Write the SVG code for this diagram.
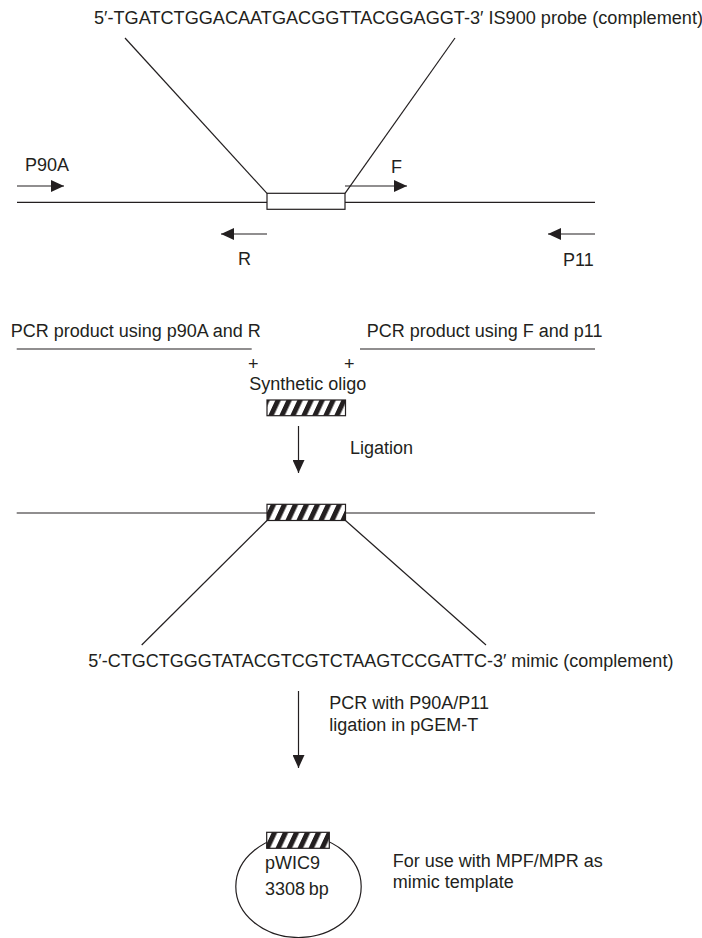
<svg xmlns="http://www.w3.org/2000/svg" width="702" height="938" viewBox="0 0 702 938">
<style>
  text { font-family: "Liberation Sans", Arial, Helvetica, sans-serif; font-size: 18px; fill: #231f20; }
  .ln { stroke: #231f20; stroke-width: 1.2; fill: none; }
  .arr { stroke: #231f20; stroke-width: 1.2; fill: none; marker-end: url(#head); }
  .box { fill: #fff; stroke: #231f20; stroke-width: 1.2; }
  .hatch { fill: url(#stripes); stroke: #231f20; stroke-width: 1.2; }
</style>
<defs>
  <marker id="head" markerUnits="userSpaceOnUse" markerWidth="13" markerHeight="12" refX="13" refY="6" orient="auto">
    <path d="M0,0 L13,6 L0,12 z" fill="#231f20"/>
  </marker>
  <pattern id="stripes" patternUnits="userSpaceOnUse" width="11" height="20" patternTransform="skewX(-25)">
    <rect x="0" y="0" width="11" height="20" fill="#fff"/>
    <rect x="0" y="0" width="5.5" height="20" fill="#231f20"/>
  </pattern>
</defs>

<rect width="702" height="938" fill="#fff"/>

<g id="connectors">
  <!-- probe zoom lines -->
  <line class="ln" x1="125" y1="38" x2="267" y2="193.3"/>
  <line class="ln" x1="455" y1="38" x2="345" y2="193.3"/>
  <!-- primer arrows -->
  <line class="arr" x1="17" y1="186" x2="64" y2="186"/>
  <line class="arr" x1="345" y1="186" x2="407" y2="186"/>
  <line class="arr" x1="267" y1="234" x2="221" y2="234"/>
  <line class="arr" x1="595" y1="234" x2="548" y2="234"/>
  <!-- ligation arrow -->
  <line class="arr" x1="298.5" y1="426" x2="298.5" y2="473"/>
  <!-- mimic zoom lines -->
  <line class="ln" x1="267" y1="520.5" x2="141.7" y2="645"/>
  <line class="ln" x1="345.5" y1="520.5" x2="486" y2="645"/>
  <!-- PCR / cloning arrow -->
  <line class="arr" x1="298.5" y1="691" x2="298.5" y2="768"/>
</g>

<g id="probe-label">
  <text x="94" y="24" textLength="609" lengthAdjust="spacingAndGlyphs">5′-TGATCTGGACAATGACGGTTACGGAGGT-3′ IS900 probe (complement)</text>
</g>

<g id="target-dna">
  <line class="ln" x1="17" y1="202.3" x2="267" y2="202.3"/>
  <line class="ln" x1="345" y1="202.3" x2="595" y2="202.3"/>
  <rect class="box" x="267" y="193.3" width="78" height="16"/>
</g>

<g id="primer-P90A"><text x="25" y="171">P90A</text></g>
<g id="primer-F"><text x="391" y="173">F</text></g>
<g id="primer-R"><text x="238" y="264.5">R</text></g>
<g id="primer-P11"><text x="563" y="266">P11</text></g>

<g id="pcr-left">
  <text x="10.7" y="336.7">PCR product using p90A and R</text>
  <line class="ln" x1="16.7" y1="349" x2="251.7" y2="349"/>
</g>
<g id="pcr-right">
  <text x="366.7" y="336.7">PCR product using F and p11</text>
  <line class="ln" x1="360" y1="349" x2="595" y2="349"/>
</g>

<g id="synthetic-oligo">
  <text x="248" y="369.8">+</text>
  <text x="344" y="369.8">+</text>
  <text x="249.3" y="390">Synthetic oligo</text>
  <rect class="hatch" x="267" y="400" width="78.5" height="15.7"/>
</g>

<g id="ligation-label"><text x="350" y="454">Ligation</text></g>

<g id="ligated-dna">
  <line class="ln" x1="16.7" y1="513" x2="267" y2="513"/>
  <line class="ln" x1="345.5" y1="513" x2="595" y2="513"/>
  <rect class="hatch" x="267" y="504.3" width="78.5" height="16.2"/>
</g>

<g id="mimic-label">
  <text x="88.3" y="667">5′-CTGCTGGGTATACGTCGTCTAAGTCCGATTC-3′ mimic (complement)</text>
</g>

<g id="cloning-label">
  <text x="329.3" y="709">PCR with P90A/P11</text>
  <text x="329.3" y="730.5">ligation in pGEM-T</text>
</g>

<g id="plasmid">
  <ellipse class="ln" cx="298.5" cy="886.5" rx="62.7" ry="51"/>
  <rect class="hatch" x="266.7" y="832.3" width="62.6" height="16"/>
  <text x="265" y="869">pWIC9</text>
  <text x="265" y="894.5">3308&#8201;bp</text>
</g>

<g id="plasmid-note">
  <text x="392.7" y="866.5">For use with MPF/MPR as</text>
  <text x="392.7" y="888">mimic template</text>
</g>
</svg>
